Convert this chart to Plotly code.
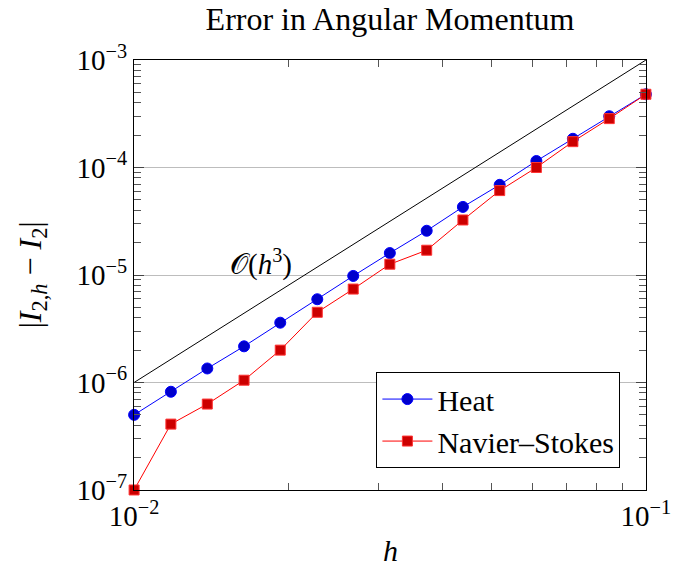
import plotly.graph_objects as go

# Mesh sizes
h = [0.0100, 0.0118, 0.0139, 0.0164, 0.0193, 0.0228, 0.0268, 0.0316,
     0.0373, 0.0439, 0.0518, 0.0611, 0.0720, 0.0848, 0.1000]

# |I_{2,h} - I_2| for each solver
err_heat = [5.0e-7, 8.2e-7, 1.35e-6, 2.17e-6, 3.6e-6, 5.95e-6, 9.8e-6, 1.6e-5,
            2.58e-5, 4.3e-5, 6.9e-5, 1.15e-4, 1.85e-4, 3.0e-4, 4.8e-4]
err_ns = [1.0e-7, 4.1e-7, 6.3e-7, 1.05e-6, 2.0e-6, 4.5e-6, 7.4e-6, 1.26e-5,
          1.7e-5, 3.25e-5, 6.1e-5, 1.0e-4, 1.74e-4, 2.85e-4, 4.8e-4]

# Third-order reference slope
ref_h = [0.01, 0.1]
ref_err = [1e-6, 1e-3]

x_ticks = [1e-2, 1e-1]
x_ticktext = ["10<sup>−2</sup>", "10<sup>−1</sup>"]
y_ticks = [1e-7, 1e-6, 1e-5, 1e-4, 1e-3]
y_ticktext = ["10<sup>−7</sup>", "10<sup>−6</sup>", "10<sup>−5</sup>",
              "10<sup>−4</sup>", "10<sup>−3</sup>"]

FONT = "Liberation Serif"

fig = go.Figure()

fig.add_trace(go.Scatter(
    x=ref_h, y=ref_err, mode="lines",
    line=dict(color="black", width=1),
    showlegend=False, cliponaxis=False, hoverinfo="skip",
))

fig.add_trace(go.Scatter(
    x=h, y=err_heat, mode="lines+markers", name="Heat",
    line=dict(color="#0000ff", width=1),
    marker=dict(symbol="circle", size=11, color="#0000cc",
                line=dict(color="#0000ff", width=1)),
    cliponaxis=False,
))

fig.add_trace(go.Scatter(
    x=h, y=err_ns, mode="lines+markers", name="Navier–Stokes",
    line=dict(color="#ff0000", width=1),
    marker=dict(symbol="square", size=10, color="#cc0000",
                line=dict(color="#ff3333", width=1)),
    cliponaxis=False,
))

axis_common = dict(
    showline=True, linecolor="black", linewidth=1, mirror="allticks",
    ticks="inside", ticklen=10, tickwidth=1, tickcolor="#444444",
    tickfont=dict(family=FONT, size=29, color="black"),
    zeroline=False,
)

# ranges padded by a hair so points sitting exactly on the frame stay visible
fig.update_xaxes(
    type="log", range=[-2.0002, -0.9998],
    tickvals=x_ticks, ticktext=x_ticktext,
    showgrid=False,
    minor=dict(ticks="inside", ticklen=7, tickwidth=1, tickcolor="#555555",
               dtick="D1", showgrid=False),
    **axis_common,
)

fig.update_yaxes(
    type="log", range=[-7.0002, -2.9998],
    tickvals=y_ticks, ticktext=y_ticktext,
    showgrid=True, gridcolor="#bdbdbd", gridwidth=1,
    minor=dict(ticks="inside", ticklen=7, tickwidth=1, tickcolor="#555555",
               dtick="D1", showgrid=False),
    **axis_common,
)

fig.add_annotation(
    x=-1.7515, y=-4.888, xref="x", yref="y",
    xanchor="center", yanchor="middle",
    text="𝒪(<i>h</i><sup>3</sup>)", showarrow=False,
    font=dict(family=FONT, size=29, color="black"),
)

fig.add_annotation(
    x=0.5, y=-0.14, xref="paper", yref="paper",
    xanchor="center", yanchor="middle",
    text="<i>h</i>", showarrow=False,
    font=dict(family=FONT, size=30, color="black"),
)

fig.add_annotation(
    x=-0.2, y=0.5, xref="paper", yref="paper",
    xanchor="center", yanchor="middle",
    text="|<i>I</i><sub>2,<i>h</i></sub> − <i>I</i><sub>2</sub>|",
    textangle=-90, showarrow=False,
    font=dict(family=FONT, size=32, color="black"),
)

fig.update_layout(
    width=683, height=572,
    margin=dict(l=134, r=30, t=60, b=82),
    paper_bgcolor="white", plot_bgcolor="white",
    title=dict(text="Error in Angular Momentum", x=0.5, xref="paper",
               y=0.967, yanchor="middle",
               font=dict(family=FONT, size=32, color="black")),
    legend=dict(
        x=0.95, y=0.051, xanchor="right", yanchor="bottom",
        bgcolor="white", bordercolor="black", borderwidth=1,
        font=dict(family=FONT, size=30, color="black"),
        itemwidth=50, tracegroupgap=0,
    ),
    showlegend=True,
)

fig.write_html("out.html")
